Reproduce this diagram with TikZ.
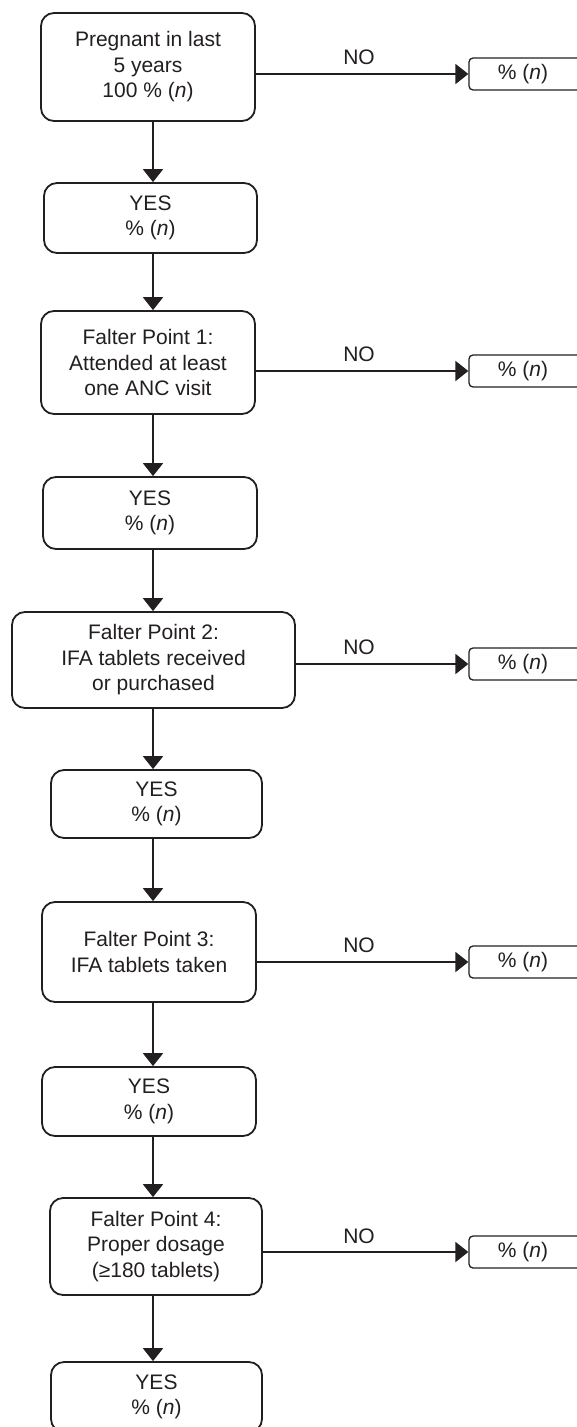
\documentclass[tikz,border=0pt]{standalone}
\usepackage{fontspec}
\setmainfont{Liberation Sans}
\usetikzlibrary{arrows.meta}
\definecolor{ink}{HTML}{231F20}
\begin{document}
\begin{tikzpicture}[x=1pt,y=-1pt,
  txt/.style={text=ink, font=\fontsize{21pt}{25.5pt}\selectfont},
  box/.style={txt, draw=ink, line width=1.8pt, rounded corners=13pt, align=center, inner sep=0pt},
  res/.style={txt, draw=ink, line width=1.3pt, rounded corners=4pt, inner sep=0pt, minimum width=124pt, minimum height=32pt},
  arr/.style={draw=ink, line width=2pt, -{Triangle[length=13pt,width=20pt]}},
  lbl/.style={txt, inner sep=0pt}]
\useasboundingbox (0,0) rectangle (577,1427);
\clip (0,0) rectangle (577,1427);
\fill[white] (0,0) rectangle (577,1427);
\coordinate (ax) at (153,0);

% main column
\node[box, minimum width=214pt, minimum height=108pt] (p) at (148,67) {Pregnant in last\\5 years\\100 \% (\textit{n})};
\node[box, minimum width=213pt, minimum height=70pt] (y1) at (150.5,218) {YES\\\% (\textit{n})};
\node[box, minimum width=214pt, minimum height=103pt] (f1) at (148,362.5) {Falter Point 1:\\Attended at least\\one ANC visit};
\node[box, minimum width=214pt, minimum height=72pt] (y2) at (150,513) {YES\\\% (\textit{n})};
\node[box, minimum width=283pt, minimum height=96pt] (f2) at (153.5,660) {Falter Point 2:\\IFA tablets received\\or purchased};
\node[box, minimum width=211pt, minimum height=68pt] (y3) at (156.5,804) {YES\\\% (\textit{n})};
\node[box, minimum width=214pt, minimum height=100pt] (f3) at (149,952) {Falter Point 3:\\IFA tablets taken};
\node[box, minimum width=214pt, minimum height=69pt] (y4) at (149,1101.5) {YES\\\% (\textit{n})};
\node[box, minimum width=212pt, minimum height=97pt] (f4) at (156,1246.5) {Falter Point 4:\\Proper dosage\\(≥180 tablets)};
\node[box, minimum width=211pt, minimum height=70pt] (y5) at (156.5,1397) {YES\\\% (\textit{n})};

% NO results (right edge runs off the page)
\node[res] (n0) at (531,74) {\hspace*{-16pt}\% (\textit{n})};
\node[res] (n1) at (531,371) {\hspace*{-16pt}\% (\textit{n})};
\node[res] (n2) at (531,664) {\hspace*{-16pt}\% (\textit{n})};
\node[res] (n3) at (531,962) {\hspace*{-16pt}\% (\textit{n})};
\node[res] (n4) at (531,1252) {\hspace*{-16pt}\% (\textit{n})};

\node[lbl] (l0) at (359,57) {NO};
\node[lbl] (l1) at (359,354) {NO};
\node[lbl] (l2) at (359,647) {NO};
\node[lbl] (l3) at (359,945) {NO};
\node[lbl] (l4) at (359,1236) {NO};

% vertical connectors
\draw[arr] (p.south -| ax) -- (y1.north -| ax);
\draw[arr] (y1.south -| ax) -- (f1.north -| ax);
\draw[arr] (f1.south -| ax) -- (y2.north -| ax);
\draw[arr] (y2.south -| ax) -- (f2.north -| ax);
\draw[arr] (f2.south -| ax) -- (y3.north -| ax);
\draw[arr] (y3.south -| ax) -- (f3.north -| ax);
\draw[arr] (f3.south -| ax) -- (y4.north -| ax);
\draw[arr] (y4.south -| ax) -- (f4.north -| ax);
\draw[arr] (f4.south -| ax) -- (y5.north -| ax);

% horizontal connectors
\draw[arr] (p.east |- n0.west) -- (n0.west);
\draw[arr] (f1.east |- n1.west) -- (n1.west);
\draw[arr] (f2.east |- n2.west) -- (n2.west);
\draw[arr] (f3.east |- n3.west) -- (n3.west);
\draw[arr] (f4.east |- n4.west) -- (n4.west);
\end{tikzpicture}
\end{document}
